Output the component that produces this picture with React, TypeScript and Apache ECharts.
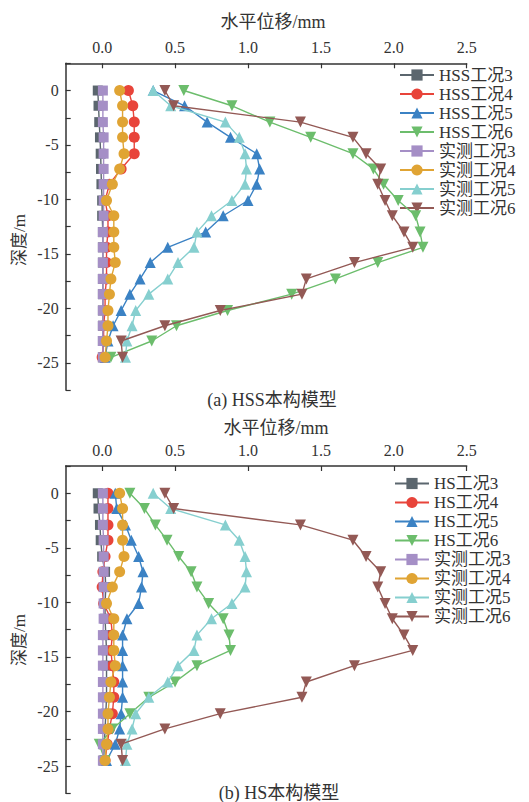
import React, { useEffect, useRef } from 'react';
import * as echarts from 'echarts';

// depth (m) of each measuring point
const depths = [0, -1.4, -2.9, -4.3, -5.8, -7.2, -8.6, -10.1, -11.5, -13.0, -14.4, -15.8, -17.3, -18.7, -20.2, -21.6, -23.0, -24.5];

// (a) HSS model
const hss3 = [-0.03, -0.025, -0.02, -0.015, -0.01, -0.008, -0.005, 0, 0, 0.005, 0.005, 0.005, 0.005, 0.005, 0.005, 0.005, 0.005, 0.005];
const hss4 = [0.18, 0.21, 0.22, 0.22, 0.22, 0.13, 0.05, 0.02, 0.04, 0.04, 0.03, 0.03, 0.03, 0.02, 0.02, 0.01, 0.01, 0.0];
const hss5 = [0.35, 0.565, 0.72, 0.88, 1.06, 1.08, 1.06, 1.0, 0.83, 0.71, 0.45, 0.33, 0.26, 0.19, 0.13, 0.075, 0.04, 0.02];
const hss6 = [0.56, 0.89, 1.15, 1.43, 1.72, 1.86, 1.93, 2.03, 2.15, 2.18, 2.2, 1.89, 1.6, 1.3, 0.86, 0.51, 0.34, 0.06];

// (b) HS model
const hs3 = [-0.03, -0.025, -0.015, -0.01, 0.0, 0.02, 0.025, 0.02, 0.02, 0.025, 0.03, 0.03, 0.03, 0.03, 0.025, 0.02, 0.015, 0.01];
const hs4 = [0.04, 0.04, 0.04, 0.04, 0.02, 0.005, 0.0, 0.01, 0.06, 0.07, 0.06, 0.07, 0.08, 0.08, 0.07, 0.05, 0.035, 0.02];
const hs5 = [0.09, 0.1, 0.16, 0.2, 0.25, 0.28, 0.27, 0.25, 0.17, 0.14, 0.14, 0.14, 0.14, 0.14, 0.13, 0.12, 0.09, 0.03];
const hs6 = [0.19, 0.29, 0.365, 0.445, 0.525, 0.61, 0.65, 0.73, 0.83, 0.87, 0.88, 0.65, 0.5, 0.32, 0.19, 0.07, -0.02, 0.02];

// measured
const meas3 = [0.005, 0.005, 0.005, 0.01, 0.01, 0.01, 0.01, 0.01, 0.01, 0.005, 0.005, 0.005, 0.005, 0.005, 0.005, 0.005, 0.005, 0.005];
const meas4 = [0.12, 0.14, 0.14, 0.14, 0.15, 0.12, 0.07, 0.03, 0.08, 0.08, 0.08, 0.09, 0.06, 0.05, 0.04, 0.04, 0.03, 0.02];
const meas5 = [0.35, 0.47, 0.845, 0.94, 0.98, 0.99, 0.98, 0.89, 0.75, 0.65, 0.63, 0.52, 0.45, 0.32, 0.23, 0.205, 0.17, 0.16];
const meas6 = [0.43, 0.49, 1.36, 1.72, 1.81, 1.91, 1.89, 1.94, 1.99, 2.07, 2.13, 1.73, 1.4, 1.37, 0.81, 0.43, 0.13, 0.14];

const namesA = ['HSS工况3', 'HSS工况4', 'HSS工况5', 'HSS工况6', '实测工况3', '实测工况4', '实测工况5', '实测工况6'];
const namesB = ['HS工况3', 'HS工况4', 'HS工况5', 'HS工况6', '实测工况3', '实测工况4', '实测工况5', '实测工况6'];

const xTicks = [0, 0.5, 1, 1.5, 2, 2.5];
const yLabels = [0, -5, -10, -15, -20, -25];

const xTitle = '水平位移/mm';
const yTitle = '深度/m';
const captionA = '(a) HSS本构模型';
const captionB = '(b) HS本构模型';

const colors = ['#5b666e', '#e8443a', '#3b82c4', '#6cbd6c', '#a58fc6', '#e0a434', '#86cfcf', '#935955'];
const symbols = ['rect', 'circle', 'triangle', 'triangle', 'rect', 'circle', 'triangle', 'triangle'];
const rotates = [0, 0, 0, 180, 0, 0, 0, 180];

const FONT = 'Liberation Serif, Noto Sans CJK SC, serif';
const AXIS_COLOR = '#333';

export default function App() {
  const ref = useRef<HTMLDivElement>(null);

  useEffect(() => {
    if (!ref.current) return;
    const chart = echarts.init(ref.current, null, { renderer: 'svg' });

    const grids = [
      { left: 65.7, top: 63.3, width: 401, height: 326.7 },
      { left: 65.7, top: 466, width: 401, height: 327.3 },
    ];

    const xAxisCfg = (gridIndex: number) => ({
      type: 'value',
      gridIndex,
      position: 'top',
      min: -0.25,
      max: 2.5,
      axisLine: { show: true, onZero: false, lineStyle: { color: AXIS_COLOR, width: 1.5 } },
      axisTick: { show: true, inside: true, length: 5, customValues: xTicks, lineStyle: { color: AXIS_COLOR, width: 1.2 } },
      axisLabel: {
        customValues: xTicks,
        formatter: (v: number) => v.toFixed(1),
        fontFamily: FONT,
        fontSize: 16,
        color: AXIS_COLOR,
        margin: 8,
      },
      splitLine: { show: false },
    });

    const yAxisCfg = (gridIndex: number) => ({
      type: 'value',
      gridIndex,
      min: -27.5,
      max: 2.5,
      interval: 2.5,
      axisLine: { show: true, onZero: false, lineStyle: { color: AXIS_COLOR, width: 1.5 } },
      axisTick: { show: true, inside: true, length: 5, lineStyle: { color: AXIS_COLOR, width: 1.2 } },
      axisLabel: {
        customValues: yLabels,
        formatter: (v: number) => String(v),
        fontFamily: FONT,
        fontSize: 16,
        color: AXIS_COLOR,
        margin: 7,
      },
      splitLine: { show: false },
    });

    const dataA = [hss3, hss4, hss5, hss6, meas3, meas4, meas5, meas6];
    const dataB = [hs3, hs4, hs5, hs6, meas3, meas4, meas5, meas6];

    const mkSeries = (names: string[], data: number[][], idx: number) =>
      names.map((name, i) => ({
        type: 'line',
        name,
        xAxisIndex: idx,
        yAxisIndex: idx,
        data: data[i].map((v, k) => [v, depths[k]]),
        symbol: symbols[i],
        symbolSize: symbols[i] === 'rect' ? 10 : 11,
        symbolRotate: rotates[i],
        showSymbol: true,
        color: colors[i],
        lineStyle: { color: colors[i], width: 1.4 },
        itemStyle: { color: colors[i] },
        z: 2 + i,
      }));

    const legendCfg = (names: string[], left: number, top: number) => ({
      data: names,
      orient: 'vertical',
      left,
      top,
      padding: 0,
      itemWidth: 34,
      itemHeight: 14,
      itemGap: 1,
      selectedMode: false,
      textStyle: { fontFamily: FONT, fontSize: 17, lineHeight: 18, color: AXIS_COLOR, padding: [0, 0, 0, 0] },
    });

    const txt = (text: string, x: number, y: number, size: number, rotation = 0) => ({
      type: 'text',
      x,
      y,
      rotation,
      style: {
        text,
        fontFamily: FONT,
        fontSize: size,
        fill: AXIS_COLOR,
        align: 'center',
        verticalAlign: 'middle',
      },
    });

    const option: any = {
      animation: false,
      backgroundColor: '#ffffff',
      grid: grids,
      xAxis: [xAxisCfg(0), xAxisCfg(1)],
      yAxis: [yAxisCfg(0), yAxisCfg(1)],
      legend: [legendCfg(namesA, 399, 66), legendCfg(namesB, 394, 474.5)],
      series: [...mkSeries(namesA, dataA, 0), ...mkSeries(namesB, dataB, 1)],
      graphic: [
        txt(xTitle, 273, 22, 18),
        txt(xTitle, 276, 428, 18),
        txt(yTitle, 19, 240, 17, Math.PI / 2),
        txt(yTitle, 19, 640, 17, Math.PI / 2),
        txt(captionA, 272, 400, 18),
        txt(captionB, 279, 793, 18),
      ],
    };

    chart.setOption(option);
    return () => chart.dispose();
  }, []);

  return (
    <div
      ref={ref}
      style={{ position: 'fixed', left: 0, top: 0, width: 529, height: 802, background: '#fff' }}
    />
  );
}
